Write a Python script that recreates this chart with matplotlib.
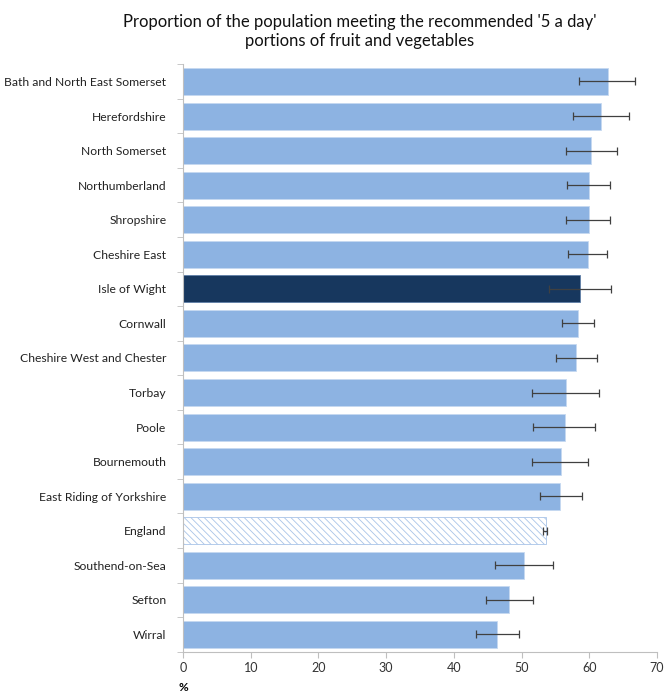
import matplotlib
matplotlib.use('Agg')
import matplotlib.pyplot as plt
import numpy as np

plt.rcParams['font.family'] = ['Lato', 'DejaVu Sans']
plt.rcParams['hatch.linewidth'] = 0.6

areas = ["Bath and North East Somerset", "Herefordshire", "North Somerset",
         "Northumberland", "Shropshire", "Cheshire East", "Isle of Wight",
         "Cornwall", "Cheshire West and Chester", "Torbay", "Poole",
         "Bournemouth", "East Riding of Yorkshire", "England",
         "Southend-on-Sea", "Sefton", "Wirral"]
values = [62.7, 61.7, 60.3, 60.0, 59.9, 59.8, 58.6, 58.3, 58.1, 56.5, 56.4,
          55.8, 55.7, 53.6, 50.4, 48.1, 46.4]
ci_low = [58.5, 57.6, 56.5, 56.7, 56.6, 56.8, 54.0, 55.9, 55.0, 51.6, 51.7,
          51.6, 52.7, 53.2, 46.0, 44.8, 43.3]
ci_high = [66.7, 65.8, 64.1, 63.1, 63.0, 62.6, 63.2, 60.7, 61.1, 61.4, 60.9,
           59.8, 58.9, 53.8, 54.7, 51.7, 49.6]

light = '#8DB3E2'
dark = '#17375E'

fig = plt.figure(figsize=(6.64, 6.95), dpi=100)
ax = fig.add_axes([0.2756, 0.0623, 0.714, 0.8453])

y = np.arange(len(areas))
vals = np.array(values)
err = [vals - np.array(ci_low), np.array(ci_high) - vals]

for i, name in enumerate(areas):
    if name == "England":
        ax.barh(i, values[i], height=0.78, color='white', edgecolor='#a9c4e8',
                hatch='\\\\\\\\\\', linewidth=0.6)
    elif name == "Isle of Wight":
        ax.barh(i, values[i], height=0.78, color=dark, edgecolor='#5f7fa8',
                linewidth=0.6)
    else:
        ax.barh(i, values[i], height=0.78, color=light, edgecolor='#c6d9f1',
                linewidth=0.6)

ax.errorbar(vals, y, xerr=err, fmt='none', ecolor='#404040', elinewidth=0.9,
            capsize=3, capthick=0.9)

ax.set_ylim(len(areas) - 0.5, -0.5)
ax.set_xlim(0, 70)
ax.set_xticks(np.arange(0, 71, 10))
ax.set_yticks(y)
ax.set_yticklabels(areas)
ax.set_yticks(np.arange(-0.5, len(areas), 1), minor=True)
ax.tick_params(axis='y', which='major', length=0, pad=12, labelsize=8.7,
               labelcolor='#222222')
ax.tick_params(axis='y', which='minor', length=4, color='#bfbfbf')
ax.tick_params(axis='x', length=4, color='#bfbfbf', labelsize=9,
               labelcolor='#333333')

for s in ['top', 'right']:
    ax.spines[s].set_visible(False)
for s in ['left', 'bottom']:
    ax.spines[s].set_color('#bfbfbf')

ax.set_xlabel('%', fontsize=8.5, fontweight='bold')
ax.xaxis.set_label_coords(0.0, -0.052)

fig.text(0.542, 0.955, "Proportion of the population meeting the recommended '5 a day'\nportions of fruit and vegetables",
         ha='center', va='center', fontsize=12, color='#111111', linespacing=1.2)

fig.savefig('out.png', dpi=100)
